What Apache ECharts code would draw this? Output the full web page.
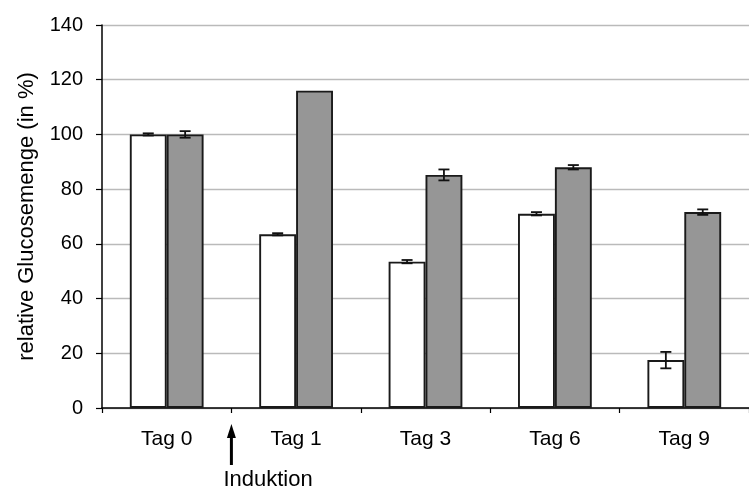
<!DOCTYPE html>
<html>
<head>
<meta charset="utf-8">
<script src="https://cdn.jsdelivr.net/npm/echarts@6/dist/echarts.min.js"></script>
<style>
  html, body { margin: 0; padding: 0; background: #fff; }
  #chart { width: 749px; height: 489px; }
</style>
</head>
<body>
<div id="chart"></div>
<script>
// Relative glucose amount per day, two groups with standard errors
const categories = ['Tag 0', 'Tag 1', 'Tag 3', 'Tag 6', 'Tag 9'];
const whiteValues = [100, 63.5, 53.5, 71, 17.5];
const whiteErrors = [0.4, 0.4, 0.6, 0.6, 3];
const grayValues = [100, 116, 85.2, 88, 71.6];
const grayErrors = [1.2, 0, 2, 0.8, 1];
const yTicks = [0, 20, 40, 60, 80, 100, 120, 140];
const annotationText = 'Induktion';

const FONT = '"Liberation Sans", Arial, sans-serif';
const BAR_FRACTION = 0.285;

const chart = echarts.init(document.getElementById('chart'), null, { renderer: 'canvas' });

function errorSeries(values, errors, side) {
  return {
    type: 'custom',
    z: 5,
    silent: true,
    data: values.map((v, i) => [i, v, errors[i]]),
    renderItem: function (params, api) {
      const idx = api.value(0);
      const val = api.value(1);
      const err = api.value(2);
      if (!err) return null;
      const bandW = api.size([1, 0])[0];
      const barW = bandW * BAR_FRACTION;
      const center = api.coord([idx, val]);
      const x = center[0] + side * barW / 2;
      const yHi = api.coord([idx, val + err])[1];
      const yLo = api.coord([idx, val - err])[1];
      const cap = 5.5;
      const style = { stroke: '#111', lineWidth: 1.8, fill: null };
      return {
        type: 'group',
        children: [
          { type: 'line', shape: { x1: x, y1: yHi, x2: x, y2: yLo }, style: style },
          { type: 'line', shape: { x1: x - cap, y1: yHi, x2: x + cap, y2: yHi }, style: style },
          { type: 'line', shape: { x1: x - cap, y1: yLo, x2: x + cap, y2: yLo }, style: style }
        ]
      };
    }
  };
}

const option = {
  animation: false,
  backgroundColor: '#fff',
  grid: { left: 102, top: 25, right: -8, bottom: 81, containLabel: false },
  xAxis: {
    type: 'category',
    data: categories,
    axisLine: { lineStyle: { color: '#000', width: 1.5 } },
    axisTick: { show: true, length: 5, lineStyle: { color: '#000', width: 1.2 } },
    axisLabel: { color: '#000', fontSize: 21, fontFamily: FONT, margin: 21 },
    splitLine: { show: false }
  },
  yAxis: {
    type: 'value',
    min: yTicks[0],
    max: yTicks[yTicks.length - 1],
    interval: 20,
    name: 'relative Glucosemenge (in %)',
    nameLocation: 'middle',
    nameGap: 64,
    nameTextStyle: { color: '#000', fontSize: 22, fontFamily: FONT },
    axisLine: { show: true, lineStyle: { color: '#000', width: 1.5 } },
    axisTick: { show: true, length: 6, lineStyle: { color: '#000', width: 1.2 } },
    axisLabel: { color: '#000', fontSize: 20, fontFamily: FONT, margin: 19 },
    splitLine: { show: true, lineStyle: { color: '#bababa', width: 1.4 } }
  },
  series: [
    {
      type: 'bar',
      data: whiteValues,
      barWidth: (BAR_FRACTION * 100) + '%',
      barGap: '0%',
      itemStyle: { color: '#fff', borderColor: '#1a1a1a', borderWidth: 1.9 }
    },
    {
      type: 'bar',
      data: grayValues,
      barWidth: (BAR_FRACTION * 100) + '%',
      barGap: '0%',
      itemStyle: { color: '#969696', borderColor: '#1a1a1a', borderWidth: 1.9 }
    },
    errorSeries(whiteValues, whiteErrors, -1),
    errorSeries(grayValues, grayErrors, 1)
  ]
};

chart.setOption(option);

// Arrow marking the induction point between the first two days
const c0 = chart.convertToPixel({ xAxisIndex: 0 }, 0);
const c1 = chart.convertToPixel({ xAxisIndex: 0 }, 1);
const arrowX = (c0 + c1) / 2;
const baseY = chart.convertToPixel({ yAxisIndex: 0 }, 0);

chart.setOption({
  graphic: [
    {
      type: 'line',
      shape: { x1: arrowX, y1: baseY + 28, x2: arrowX, y2: baseY + 57 },
      style: { stroke: '#000', lineWidth: 3 }
    },
    {
      type: 'polygon',
      shape: { points: [[arrowX, baseY + 16], [arrowX - 4.5, baseY + 30], [arrowX + 4.5, baseY + 30]] },
      style: { fill: '#000' }
    },
    {
      type: 'text',
      x: arrowX - 8,
      y: baseY + 61,
      style: { text: annotationText, fill: '#000', fontSize: 22, fontFamily: FONT, align: 'left', verticalAlign: 'top' }
    }
  ]
});
</script>
</body>
</html>
